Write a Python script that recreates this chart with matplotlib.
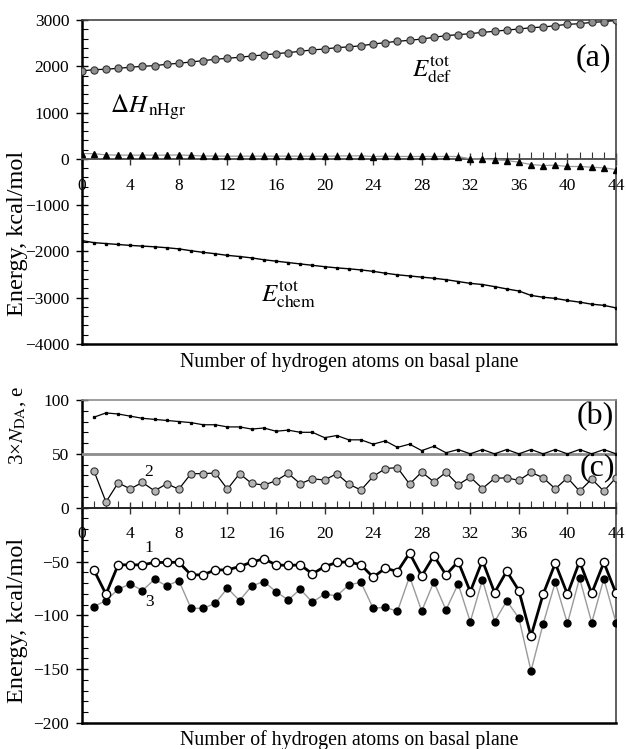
import numpy as np
import matplotlib
matplotlib.use("Agg")
import matplotlib.pyplot as plt
from matplotlib.ticker import MultipleLocator

plt.rcParams['font.family'] = ['Liberation Serif', 'DejaVu Serif']
plt.rcParams['mathtext.fontset'] = 'stix'

# ---------------- data ----------------
n_all = list(range(0, 45))
n_part = list(range(1, 45))

e_def = [1899, 1928, 1935, 1957, 1978, 2000, 2014, 2043, 2065, 2093,
         2122, 2151, 2173, 2194, 2223, 2245, 2273, 2295, 2324, 2353,
         2374, 2403, 2420, 2443, 2481, 2511, 2539, 2561, 2589, 2626,
         2662, 2683, 2705, 2733, 2755, 2783, 2805, 2834, 2848, 2877,
         2906, 2920, 2949, 2963, 2992]

dh_nhgr = [115, 112, 85, 82, 80, 80, 80, 80, 85, 75,
           62, 60, 58, 58, 58, 58, 58, 58, 58, 56,
           56, 60, 65, 65, 50, 58, 52, 52, 52, 52,
           52, 50, 0, -7, -22, -36, -72, -122, -144, -137,
           -165, -165, -180, -194, -230]

e_chem = [-1765, -1810, -1830, -1850, -1870, -1885, -1900, -1920, -1945, -1985,
          -2020, -2050, -2085, -2110, -2140, -2180, -2210, -2240, -2270, -2300,
          -2330, -2355, -2375, -2400, -2430, -2470, -2505, -2530, -2555, -2580,
          -2610, -2650, -2690, -2715, -2760, -2810, -2855, -2950, -2990, -3015,
          -3060, -3095, -3140, -3165, -3220]

n_da3 = [84, 88, 87, 85, 83, 82, 81, 80, 79, 77,
         77, 75, 75, 73, 74, 71, 72, 70, 70, 65,
         67, 63, 63, 59, 62, 56, 59, 53, 57, 51,
         54, 50, 54, 50, 54, 50, 54, 50, 54, 50,
         54, 50, 54, 50]

curve2 = [34.4, 5.3, 23.0, 17.5, 23.4, 15.6, 22.2, 17.2, 31.6, 31.6,
          32.2, 17.2, 31.6, 22.5, 21.0, 25.0, 31.9, 22.2, 26.9, 25.6,
          31.6, 21.9, 16.3, 29.0, 36.3, 37.2, 21.9, 33.1, 24.0, 32.8,
          21.3, 28.4, 17.8, 27.2, 27.8, 25.3, 32.8, 27.8, 17.5, 27.8,
          15.3, 26.6, 15.3, 27.8]

curve1 = [-57.8, -80.4, -53.1, -53.1, -53.1, -50.9, -50.9, -50.6, -62.4, -62.4,
          -57.8, -57.8, -54.7, -50.6, -47.5, -53.1, -53.7, -53.1, -61.5, -54.7,
          -50.9, -50.3, -53.1, -64.6, -56.2, -59.3, -42.2, -63.4, -44.7, -62.4,
          -50.0, -78.0, -49.1, -78.9, -59.0, -77.0, -119.3, -80.4, -51.6, -80.4,
          -50.0, -79.5, -50.9, -79.5]

curve3 = [-91.9, -86.3, -75.8, -70.8, -77.0, -66.5, -72.7, -67.7, -93.5, -93.5,
          -88.8, -74.8, -86.3, -72.7, -68.6, -78.0, -85.7, -75.8, -87.9, -80.1,
          -82.0, -71.7, -69.3, -93.5, -92.5, -96.3, -64.0, -96.0, -68.9, -95.0,
          -70.8, -105.9, -67.1, -105.9, -86.6, -102.5, -151.6, -108.0, -69.3, -107.5,
          -65.5, -106.8, -66.1, -106.8]

x_ticks = list(range(0, 45, 4))

# ---------------- figure ----------------
W, H = 626, 749
fig = plt.figure(figsize=(W / 100, H / 100), dpi=100)

def fx(px):
    return px / W

def fy(py):
    return 1 - py / H

TICK_FS = 12.5
XLABEL_FS = 14.3
YLABEL_FS = 17.5
GRAY = '#8c8c8c'

ax1 = fig.add_axes([fx(81.7), fy(344), fx(616) - fx(81.7), fy(20) - fy(344)])
ax2 = fig.add_axes([fx(81.7), fy(723), fx(616) - fx(81.7), fy(400) - fy(723)])

def style_axes(ax, ymin, ymax, ymaj, ymin_step):
    ax.set_xlim(0, 44)
    ax.set_ylim(ymin, ymax)
    ax.spines['bottom'].set_position(('data', 0))
    ax.spines['bottom'].set_color('#555555')
    ax.spines['bottom'].set_linewidth(1.4)
    ax.spines['left'].set_linewidth(1.8)
    ax.spines['left'].set_color('black')
    for s in ('top', 'right'):
        ax.spines[s].set_linewidth(1.2)
        ax.spines[s].set_color('#444444')
    ax.xaxis.set_major_locator(MultipleLocator(4))
    ax.xaxis.set_minor_locator(MultipleLocator(1))
    ax.yaxis.set_major_locator(MultipleLocator(ymaj))
    ax.yaxis.set_minor_locator(MultipleLocator(ymin_step))
    ax.tick_params(axis='x', which='major', direction='inout', length=9, width=1.0,
                   labelsize=TICK_FS, pad=9, color='#333333')
    ax.tick_params(axis='x', which='minor', direction='in', length=5, width=0.8,
                   color='#333333')
    ax.tick_params(axis='y', which='major', direction='inout', length=8, width=1.0,
                   labelsize=TICK_FS, pad=5)
    ax.tick_params(axis='y', which='minor', direction='in', length=4, width=0.8)
    ax.set_xticks(x_ticks)
    ax.set_xticklabels([str(t) for t in x_ticks])
    ax.axhline(ymin, color='black', lw=1.8, clip_on=False, zorder=5)

# ---- panel (a) ----
style_axes(ax1, -4000, 3000, 1000, 200)
ax1.plot(n_all, e_def, color='black', lw=0.9, marker='o', ms=5.2,
         mfc='#8f8f8f', mec='#333333', mew=0.8, zorder=4)
ax1.plot(n_all, dh_nhgr, color='#9a9a9a', lw=0.9, marker='^', ms=4.8,
         mfc='black', mec='black', zorder=4)
ax1.plot(n_all, e_chem, color='black', lw=1.0, marker='s', ms=1.6,
         mfc='black', mec='black', zorder=4)

ax1.text(2.3, 1000, r'$\Delta H_{\,\mathrm{nHgr}}$', fontsize=18, ha='left', va='baseline')
ax1.text(27.2, 1780, r'$E_{\mathrm{def}}^{\mathrm{tot}}$', fontsize=18, ha='left', va='baseline')
ax1.text(14.8, -3080, r'$E_{\mathrm{chem}}^{\mathrm{tot}}$', fontsize=18, ha='left', va='baseline')
ax1.text(42.1, 2190, '(a)', fontsize=23, ha='center', va='center')

fig.text(fx(349), fy(362), 'Number of hydrogen atoms on basal plane',
         fontsize=XLABEL_FS, ha='center', va='center')
fig.text(fx(18), fy(233), 'Energy, kcal/mol', fontsize=YLABEL_FS, rotation=90,
         ha='center', va='center')

# ---- panels (b) and (c) ----
style_axes(ax2, -200, 100, 50, 10)
ax2.spines['top'].set_color(GRAY)
ax2.spines['bottom'].set_color('#222222')
ax2.axhline(50, color=GRAY, lw=2.0, zorder=3)

ax2.plot(n_part, n_da3, color='black', lw=0.9, marker='s', ms=1.4,
         mfc='black', mec='black', zorder=4)
ax2.plot(n_part, curve2, color='black', lw=0.9, marker='o', ms=5.2,
         mfc='#b4b4b4', mec='#333333', mew=0.8, zorder=4)
ax2.plot(n_part, curve3, color='#9a9a9a', lw=1.0, marker='o', ms=5.0,
         mfc='black', mec='black', zorder=4)
ax2.plot(n_part, curve1, color='black', lw=2.0, marker='o', ms=6.0,
         mfc='white', mec='black', mew=1.0, zorder=5)

ax2.text(5.5, -37.5, '1', fontsize=12.5, ha='center', va='center')
ax2.text(5.5, 33, '2', fontsize=12.5, ha='center', va='center')
ax2.text(5.6, -88, '3', fontsize=12.5, ha='center', va='center')
ax2.text(42.3, 85, '(b)', fontsize=23, ha='center', va='center')
ax2.text(42.5, 37, '(c)', fontsize=23, ha='center', va='center', zorder=6)

fig.text(fx(18), fy(425), r'3×$N_{\mathrm{DA}}$, e', fontsize=15, rotation=90,
         ha='center', va='center')
fig.text(fx(18), fy(620), 'Energy, kcal/mol', fontsize=YLABEL_FS, rotation=90,
         ha='center', va='center')
fig.text(fx(349), fy(740), 'Number of hydrogen atoms on basal plane',
         fontsize=XLABEL_FS, ha='center', va='center')

fig.savefig('out.png', dpi=100)
